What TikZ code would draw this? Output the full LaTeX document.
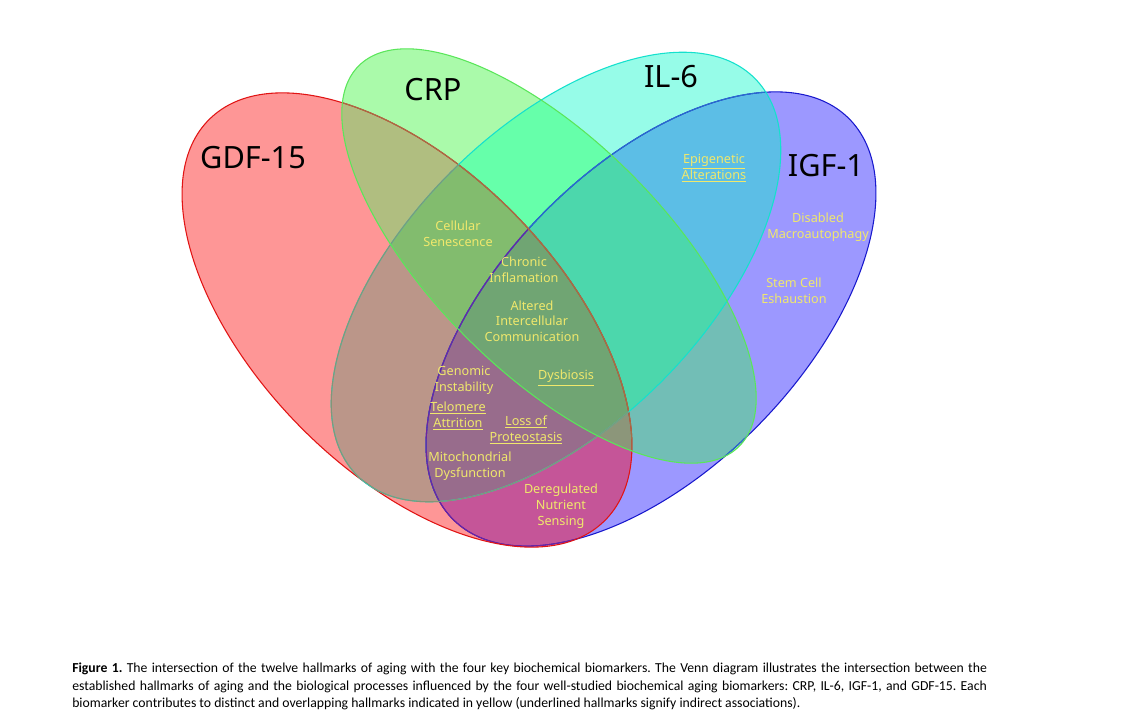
\documentclass[tikz,border=0pt]{standalone}
\usepackage{fontspec}
\newfontfamily\labfont{Noto Sans}
\newfontfamily\capfont{Carlito}
\definecolor{cR}{RGB}{254,150,150}
\definecolor{cG}{RGB}{170,250,170}
\definecolor{cC}{RGB}{150,252,232}
\definecolor{cB}{RGB}{156,152,255}
\definecolor{cRG}{RGB}{176,190,128}
\definecolor{cRC}{RGB}{187,150,137}
\definecolor{cRB}{RGB}{197,85,152}
\definecolor{cGC}{RGB}{102,255,170}
\definecolor{cGB}{RGB}{114,190,182}
\definecolor{cCB}{RGB}{92,190,230}
\definecolor{cRGC}{RGB}{130,188,110}
\definecolor{cRGB}{RGB}{140,150,122}
\definecolor{cRCB}{RGB}{152,108,140}
\definecolor{cGCB}{RGB}{76,215,172}
\definecolor{cRGCB}{RGB}{112,165,115}
\definecolor{lnR}{RGB}{225,20,20}
\definecolor{lnRdim}{RGB}{165,110,70}
\definecolor{lnG}{RGB}{90,230,90}
\definecolor{lnC}{RGB}{20,225,205}
\definecolor{lnCdim}{RGB}{130,150,120}
\definecolor{lnB}{RGB}{25,25,205}
\definecolor{lnBred}{RGB}{110,35,160}
\definecolor{lnBcyan}{RGB}{40,110,205}
\definecolor{hallyellow}{RGB}{240,232,108}
\newcommand\ClipRed{\clip[rotate around={-45.5:(407,320)}] (407,320) ellipse (281.7 and 151);}
\newcommand\ClipBlue{\clip[rotate around={45.5:(651,319)}] (651,319) ellipse (281.7 and 151);}
\newcommand\ClipGreen{\clip[rotate around={-45:(549,256)}] (549,256) ellipse (269 and 116);}
\newcommand\ClipCyan{\clip[rotate around={45:(556,277)}] (556,277) ellipse (281 and 148.5);}
\newcommand\LineRed[1]{\draw[outline, #1, rotate around={-45.5:(407,320)}] (407,320) ellipse (281.7 and 151);}
\newcommand\LineBlue[1]{\draw[outline, #1, rotate around={45.5:(651,319)}] (651,319) ellipse (281.7 and 151);}
\newcommand\LineGreen[1]{\draw[outline, #1, rotate around={-45:(549,256)}] (549,256) ellipse (269 and 116);}
\newcommand\LineCyan[1]{\draw[outline, #1, rotate around={45:(556,277)}] (556,277) ellipse (281 and 148.5);}
\newcommand\Region[2]{\begin{scope}#1\fill[#2] (0,0) rectangle (1125,728);\end{scope}}
\begin{document}
\begin{tikzpicture}[x=0.75pt,y=-0.75pt,
  hall/.style={font=\labfont\fontsize{9.5pt}{11.8pt}\selectfont, text=hallyellow, align=center, inner sep=0pt},
  bio/.style={font=\labfont\fontsize{23pt}{27pt}\selectfont, text=black, inner sep=0pt},
  outline/.style={line width=0.8pt}]
\useasboundingbox (0,0) rectangle (1125,728);
\fill[white] (0,0) rectangle (1125,728);
% single sets
\Region{\ClipBlue}{cB}
\Region{\ClipRed}{cR}
\Region{\ClipGreen}{cG}
\Region{\ClipCyan}{cC}
% pairs
\Region{\ClipRed\ClipGreen}{cRG}
\Region{\ClipRed\ClipCyan}{cRC}
\Region{\ClipRed\ClipBlue}{cRB}
\Region{\ClipGreen\ClipCyan}{cGC}
\Region{\ClipGreen\ClipBlue}{cGB}
\Region{\ClipCyan\ClipBlue}{cCB}
% triples
\Region{\ClipRed\ClipGreen\ClipCyan}{cRGC}
\Region{\ClipRed\ClipGreen\ClipBlue}{cRGB}
\Region{\ClipRed\ClipCyan\ClipBlue}{cRCB}
\Region{\ClipGreen\ClipCyan\ClipBlue}{cGCB}
% all four
\Region{\ClipRed\ClipGreen\ClipCyan\ClipBlue}{cRGCB}
% outlines: full colour where uncovered, dimmed where lying under other sets
\LineBlue{lnB}
\begin{scope}\ClipCyan\LineBlue{lnBcyan}\end{scope}
\begin{scope}\ClipGreen\LineBlue{lnBcyan}\end{scope}
\begin{scope}\ClipRed\LineBlue{lnBred}\end{scope}
\LineRed{lnR}
\begin{scope}\ClipGreen\LineRed{lnRdim}\end{scope}
\begin{scope}\ClipCyan\LineRed{lnRdim}\end{scope}
\LineCyan{lnC}
\begin{scope}\ClipRed\LineCyan{lnCdim}\end{scope}
\LineGreen{lnG}
% biomarker labels
\node[bio] (gdf) at (253,158) {GDF-15};
\node[bio] (crp) at (433,90) {CRP};
\node[bio] (il6) at (671,77) {IL-6};
\node[bio] (igf) at (826,166) {IGF-1};
% hallmarks
\node[hall] (epi) at (714,168) {\underline{Epigenetic}\\\underline{Alterations}};
\node[hall] (mac) at (818,227) {Disabled\\Macroautophagy};
\node[hall] (stem) at (794,291) {Stem Cell\\Eshaustion};
\node[hall] (sen) at (458,234) {Cellular\\Senescence};
\node[hall] (inf) at (524,270) {Chronic\\Inflamation};
\node[hall] (com) at (532,321) {Altered\\Intercellular\\Communication};
\node[hall] (gen) at (464,380) {Genomic\\Instability};
\node[hall] (dys) at (566,378) {\underline{Dysbiosis}};
\node[hall] (tel) at (458,416) {\underline{Telomere}\\\underline{Attrition}};
\node[hall] (pro) at (526,430) {\underline{Loss of}\\\underline{Proteostasis}};
\node[hall] (mit) at (470,466) {Mitochondrial\\Dysfunction};
\node[hall] (nut) at (561,506) {Deregulated\\Nutrient\\Sensing};
% caption
\node[anchor=north west, inner sep=0pt, text width=686pt, align=justify,
      font=\capfont\fontsize{10.3pt}{13.1pt}\selectfont\frenchspacing] (cap) at (72,663)
{\textbf{Figure 1.} The intersection of the twelve hallmarks of aging with the four key biochemical biomarkers. The Venn diagram illustrates the intersection between the\linebreak established hallmarks of aging and the biological processes influenced by the four well-studied biochemical aging biomarkers: CRP, IL-6, IGF-1, and GDF-15. Each\linebreak biomarker contributes to distinct and overlapping hallmarks indicated in yellow (underlined hallmarks signify indirect associations).};
\end{tikzpicture}
\end{document}
